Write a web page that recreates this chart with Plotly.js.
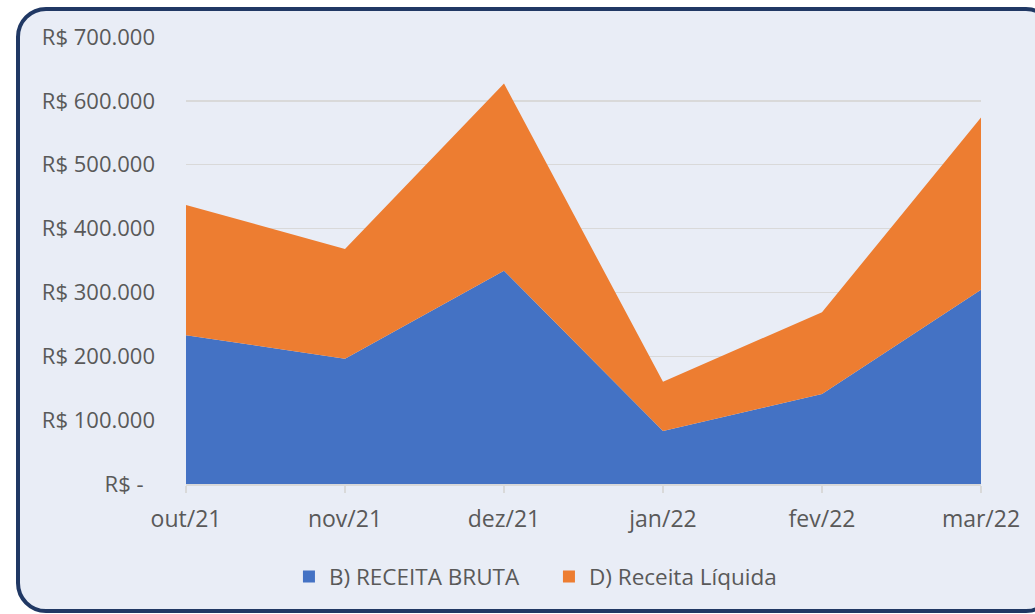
<!DOCTYPE html>
<html>
<head>
<meta charset="utf-8">
<script src="https://cdn.plot.ly/plotly-3.0.1.min.js"></script>
<style>
  html, body { margin: 0; padding: 0; background: #ffffff; width: 1035px; height: 614px; overflow: hidden; }
  #frame { position: absolute; left: 16px; top: 7px; width: 1040px; height: 606px;
           background: #E9EDF6; border: 4px solid #203864; border-radius: 30px; box-sizing: border-box; }
  #chart { position: absolute; left: 0; top: 0; width: 1035px; height: 614px; }
</style>
</head>
<body>
<div id="frame"></div>
<div id="chart"></div>
<script>
const categories = ["out/21", "nov/21", "dez/21", "jan/22", "fev/22", "mar/22"];
const receitaBruta = [233000, 196000, 334000, 83000, 141000, 304000];
const receitaLiquida = [204000, 172000, 293000, 77000, 128000, 270000];
const seriesNames = ["B) RECEITA BRUTA", "D) Receita Líquida"];
const seriesColors = ["#4472C4", "#ED7D31"];
const yTickVals = [0, 100000, 200000, 300000, 400000, 500000, 600000, 700000];
const yTickText = ["R$ -\u00a0\u00a0", "R$ 100.000", "R$ 200.000", "R$ 300.000", "R$ 400.000", "R$ 500.000", "R$ 600.000", "R$ 700.000"];

const fam = "'Open Sans', sans-serif";
const grey = "#595959";

const traces = [
  { x: categories, y: receitaBruta, name: seriesNames[0], type: "scatter", mode: "none",
    stackgroup: "one", fillcolor: seriesColors[0], line: { width: 0 }, showlegend: false },
  { x: categories, y: receitaLiquida, name: seriesNames[1], type: "scatter", mode: "none",
    stackgroup: "one", fillcolor: seriesColors[1], line: { width: 0 }, showlegend: false },
  // legend swatches (square markers like the original legend)
  { x: [null], y: [null], name: seriesNames[0], type: "bar", marker: { color: seriesColors[0] }, showlegend: true },
  { x: [null], y: [null], name: seriesNames[1], type: "bar", marker: { color: seriesColors[1] }, showlegend: true }
];

const layout = {
  width: 1035, height: 614,
  margin: { l: 186, r: 54, t: 37, b: 130 },
  paper_bgcolor: "rgba(0,0,0,0)",
  plot_bgcolor: "rgba(0,0,0,0)",
  font: { family: fam, size: 22, color: grey },
  showlegend: true,
  legend: { orientation: "h", x: 0.1295, xanchor: "left", y: -0.208, yanchor: "middle",
            font: { family: fam, size: 22.5, color: grey }, bgcolor: "rgba(0,0,0,0)",
            itemwidth: 30, entrywidth: 215, traceorder: "normal" },
  xaxis: { type: "category", range: [0, 5], showgrid: false, zeroline: false,
           showline: true, linecolor: "#D9D9D9", linewidth: 1.5,
           ticks: "outside", ticklen: 7, tickcolor: "#D9D9D9", tickwidth: 1.5,
           tickfont: { family: fam, size: 23, color: grey }, ticklabelstandoff: 7 },
  yaxis: { range: [0, 700000], tickvals: yTickVals, ticktext: yTickText,
           showgrid: true, gridcolor: "#D9D9D9", gridwidth: 1.5, zeroline: false,
           showline: false, ticks: "", tickfont: { family: fam, size: 22, color: grey },
           ticklabelstandoff: 30 }
};

Plotly.newPlot("chart", traces, layout, { displayModeBar: false, staticPlot: true });
</script>
</body>
</html>
